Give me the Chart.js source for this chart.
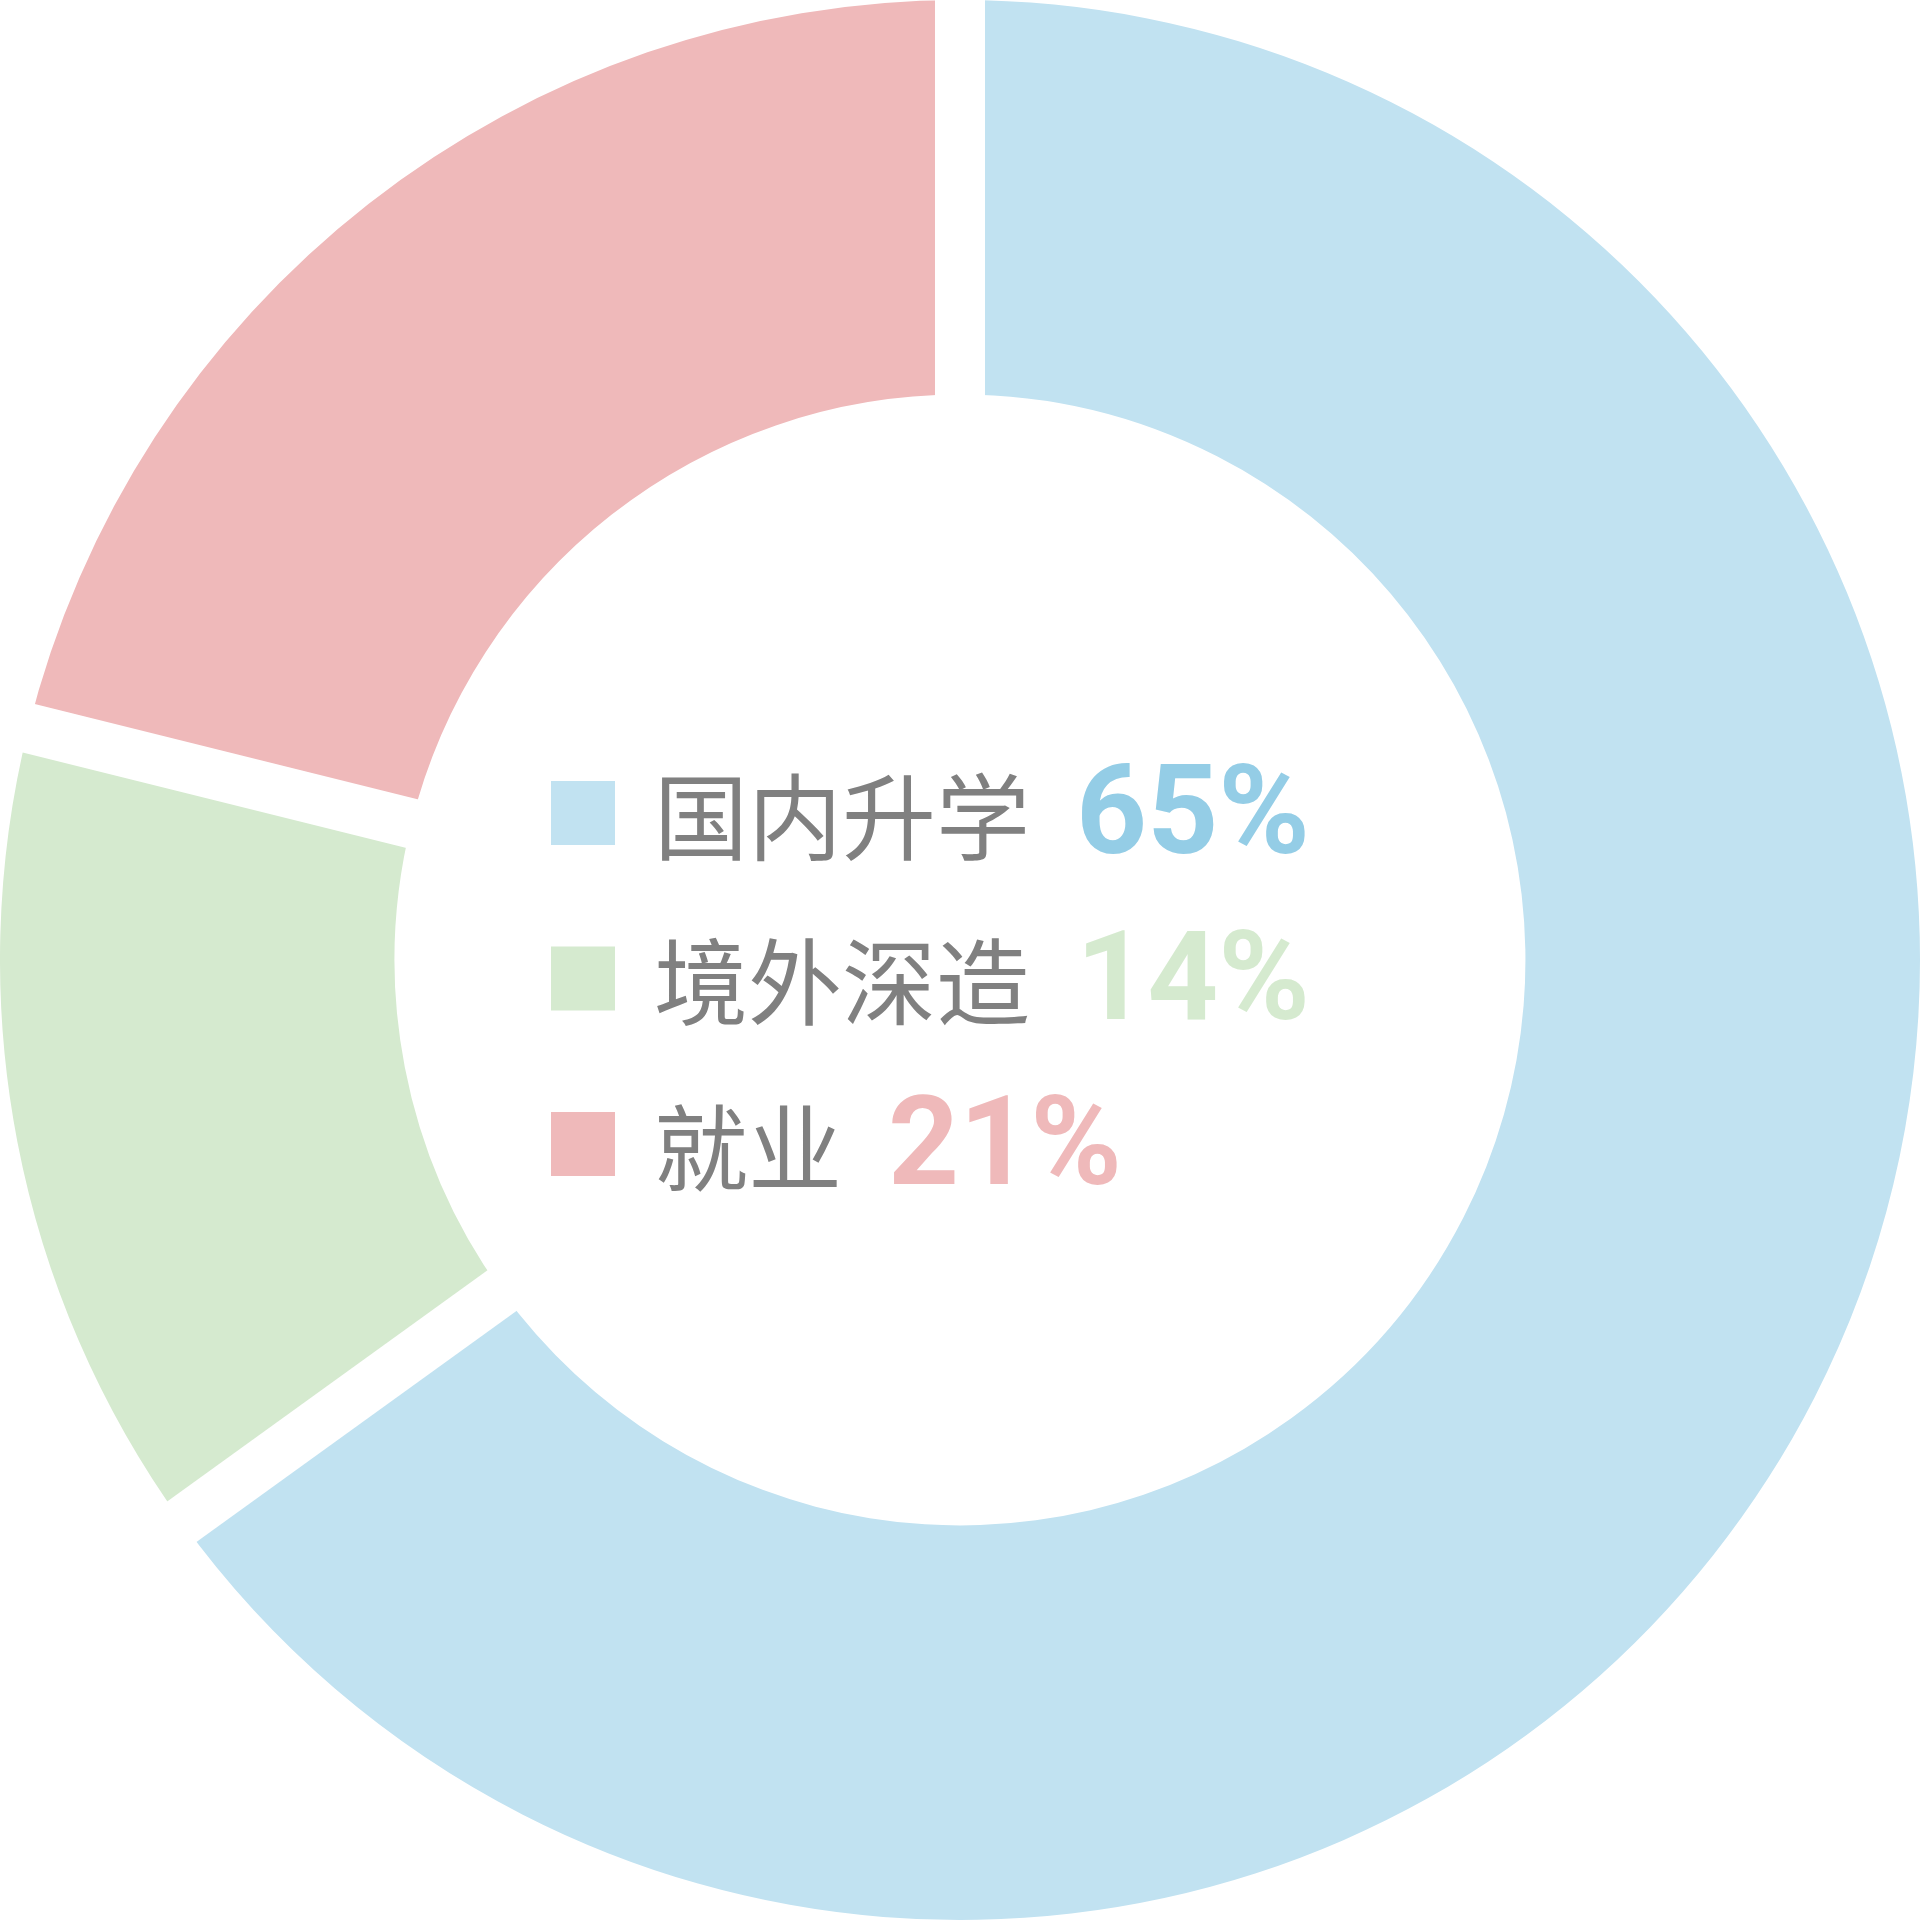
<!DOCTYPE html>
<html>
<head>
<meta charset="utf-8">
<script src="https://cdn.jsdelivr.net/npm/chart.js@4"></script>
<style>
  html, body { margin: 0; padding: 0; background: #fff; }
  #wrap { width: 1920px; height: 1920px; }
</style>
</head>
<body>
<div id="wrap"><canvas id="pie" width="1920" height="1920"></canvas></div>
<script>
const LABELS = ['国内升学', '境外深造', '就业'];
const VALUES = [65.05, 13.83, 21.12];
const PCT_TEXT = ['65%', '14%', '21%'];
const SLICE_COLORS = ['#c1e2f1', '#d5eacf', '#efb9ba'];
const NUM_COLORS = ['#94cde6', '#d5eacf', '#efb9ba'];

const GAP = 50;

// white parallel gaps between slices
const gapPlugin = {
    id: 'gaps',
    afterDatasetsDraw(chart) {
        const ctx = chart.ctx;
        const arcs = chart.getDatasetMeta(0).data;
        ctx.save();
        ctx.strokeStyle = '#ffffff';
        ctx.lineWidth = GAP;
        arcs.forEach(a => {
            const r = a.outerRadius + 10;
            ctx.beginPath();
            ctx.moveTo(a.x, a.y);
            ctx.lineTo(a.x + Math.cos(a.startAngle) * r, a.y + Math.sin(a.startAngle) * r);
            ctx.stroke();
        });
        ctx.restore();
    }
};

// legend drawn in the hole
const centerLegend = {
    id: 'centerLegend',
    afterDraw(chart) {
        const ctx = chart.ctx;
        const arc = chart.getDatasetMeta(0).data[0];
        const left = arc.x - 409;
        const top = arc.y - 147;
        const step = 165.5;
        const box = 64;
        ctx.save();
        LABELS.forEach((lab, i) => {
            const cy = top + i * step;
            ctx.fillStyle = SLICE_COLORS[i];
            ctx.fillRect(left, cy - box / 2, box, box);

            ctx.font = '400 94px "Noto Sans CJK SC"';
            ctx.fillStyle = '#808080';
            ctx.textBaseline = 'middle';
            ctx.textAlign = 'left';
            const tx = left + box + 39;
            ctx.fillText(lab, tx, cy + 4);
            const w = ctx.measureText(lab).width;

            ctx.font = '700 124px Roboto';
            ctx.fillStyle = NUM_COLORS[i];
            ctx.textBaseline = 'alphabetic';
            ctx.fillText(PCT_TEXT[i], tx + w + 46, cy + 40);
        });
        ctx.restore();
    }
};

new Chart(document.getElementById('pie'), {
    type: 'doughnut',
    data: {
        labels: LABELS,
        datasets: [{ data: VALUES, backgroundColor: SLICE_COLORS, borderWidth: 0, hoverOffset: 0 }]
    },
    options: {
        responsive: false,
        animation: false,
        cutout: '58.9%',
        layout: { padding: 0 },
        plugins: { legend: { display: false }, tooltip: { enabled: false } },
        events: []
    },
    plugins: [gapPlugin, centerLegend]
});
</script>
</body>
</html>
